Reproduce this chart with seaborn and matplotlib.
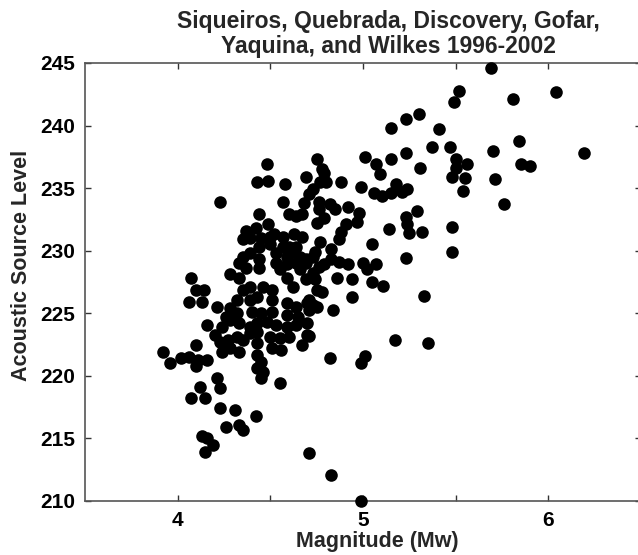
import matplotlib
matplotlib.use("Agg")
import matplotlib.pyplot as plt
import seaborn as sns
import pandas as pd

magnitude = [
    5.69, 6.04, 5.81, 5.84, 5.70, 6.19, 5.85, 5.90, 5.71, 5.76,
    5.52, 5.49, 5.30, 5.23, 5.15, 5.41, 5.37, 5.47, 5.23, 5.01,
    5.15, 5.50, 5.56, 5.50, 5.07, 5.31, 5.09, 5.48, 5.55, 5.54,
    4.88, 4.99, 5.06, 5.10, 5.15, 5.18, 5.21, 5.24, 4.75, 4.78,
    4.79, 4.77, 4.80, 5.29, 5.23, 5.24, 5.25, 5.32, 5.14, 5.48,
    5.48, 5.05, 5.23, 5.07, 5.05, 5.11, 4.94, 4.86, 4.94, 5.33,
    4.84, 4.78, 4.74, 4.73, 4.92, 4.98, 4.97, 4.91, 4.88, 4.82,
    4.85, 4.76, 4.75, 4.79, 4.87, 4.77, 4.74, 4.83, 4.83, 4.87,
    4.92, 4.76, 4.71, 5.17, 5.35, 4.82, 5.01, 4.99, 4.71, 4.83,
    4.99, 4.48, 4.43, 4.49, 4.58, 4.23, 4.69, 4.57, 4.73, 4.71,
    4.68, 4.76, 4.60, 4.64, 4.67, 4.44, 4.49, 4.37, 4.42, 4.39,
    4.35, 4.45, 4.50, 4.52, 4.57, 4.63, 4.67, 4.44, 4.50, 4.57,
    4.60, 4.64, 4.69, 4.73, 4.39, 4.35, 4.53, 4.59, 4.62, 4.66,
    4.44, 4.33, 4.37, 4.28, 4.53, 4.59, 4.64, 4.69, 4.79, 5.00,
    5.02, 4.07, 4.10, 4.14, 4.06, 4.13, 4.21, 4.28, 4.32, 4.35,
    4.39, 4.43, 4.46, 4.51, 4.55, 4.59, 4.62, 4.66, 4.69, 4.73,
    4.75, 4.71, 4.51, 4.59, 4.64, 4.70, 4.75, 4.44, 4.33, 4.39,
    4.26, 4.32, 4.40, 4.45, 4.51, 4.59, 4.65, 4.71, 4.16, 4.20,
    4.24, 4.28, 4.33, 4.39, 4.43, 4.48, 4.53, 4.59, 4.64, 4.70,
    4.23, 4.27, 4.32, 4.35, 4.39, 4.43, 4.50, 4.55, 4.60, 4.70,
    4.67, 4.24, 4.28, 4.33, 4.43, 4.51, 4.56, 4.10, 3.92, 3.96,
    4.02, 4.06, 4.11, 4.16, 4.10, 4.43, 4.45, 4.43, 4.46, 4.45,
    4.55, 4.21, 4.23, 4.12, 4.07, 4.15, 4.23, 4.31, 4.42, 4.26,
    4.33, 4.35, 4.13, 4.16, 4.19, 4.15,
]

source_level = [
    244.6, 242.7, 242.1, 238.8, 238.0, 237.8, 236.9, 236.8, 235.7, 233.7,
    242.8, 241.9, 240.9, 240.5, 239.8, 239.7, 238.3, 238.3, 237.8, 237.5,
    237.3, 237.3, 236.9, 236.6, 236.9, 236.6, 236.1, 235.9, 235.8, 234.8,
    235.5, 235.1, 234.6, 234.4, 234.6, 235.3, 234.7, 234.9, 237.3, 236.5,
    236.2, 235.5, 235.5, 233.2, 232.7, 232.1, 231.4, 231.5, 231.7, 231.9,
    229.9, 230.5, 229.4, 228.9, 227.5, 227.2, 227.7, 227.8, 226.3, 226.4,
    225.3, 226.7, 227.7, 225.7, 233.5, 233.0, 232.3, 232.1, 231.5, 233.7,
    233.3, 233.3, 232.2, 232.6, 230.9, 230.7, 229.9, 230.1, 229.3, 229.1,
    228.9, 228.7, 223.2, 222.9, 222.6, 221.4, 221.6, 221.0, 213.8, 212.1,
    210.0, 236.9, 235.5, 235.6, 235.3, 233.9, 235.9, 233.9, 234.9, 234.5,
    233.8, 233.9, 232.9, 232.8, 232.9, 232.9, 232.1, 231.6, 231.8, 231.0,
    230.9, 231.0, 231.1, 231.3, 231.1, 231.3, 231.1, 230.3, 230.5, 230.3,
    230.3, 230.3, 229.3, 229.5, 229.8, 229.5, 229.8, 229.5, 229.9, 229.5,
    229.3, 229.0, 228.6, 228.1, 229.0, 228.9, 229.0, 229.0, 228.9, 229.0,
    228.5, 227.8, 226.9, 226.9, 225.9, 225.9, 225.5, 225.4, 226.1, 226.9,
    226.1, 226.3, 227.1, 226.9, 228.5, 227.8, 227.1, 228.5, 227.7, 228.2,
    226.9, 226.1, 226.1, 225.8, 225.5, 225.8, 225.5, 228.6, 227.8, 227.1,
    224.7, 225.0, 225.1, 225.0, 225.1, 224.9, 224.7, 225.3, 224.1, 223.3,
    223.9, 224.5, 224.2, 223.9, 224.2, 224.3, 224.1, 223.9, 224.1, 224.2,
    222.7, 222.9, 223.1, 222.9, 223.4, 223.5, 223.1, 223.0, 223.1, 223.3,
    222.5, 221.9, 222.2, 221.9, 222.6, 222.2, 222.1, 222.5, 221.9, 221.0,
    221.4, 221.5, 221.3, 221.3, 220.8, 221.7, 221.1, 220.6, 220.3, 219.8,
    219.4, 219.8, 219.0, 219.1, 218.2, 218.2, 217.4, 217.3, 216.8, 215.9,
    216.1, 215.7, 215.2, 215.0, 214.5, 213.9,
]

x_ticks = [4, 4.5, 5, 5.5, 6]
x_tick_labels = ["4", "", "5", "", "6"]
y_ticks = [210, 215, 220, 225, 230, 235, 240, 245]

title_text = "Siqueiros, Quebrada, Discovery, Gofar,\nYaquina, and Wilkes 1996-2002"
x_label = "Magnitude (Mw)"
y_label = "Acoustic Source Level"

sns.set_style("ticks")
plt.rcParams["font.family"] = ["Liberation Sans", "DejaVu Sans"]
plt.rcParams["font.weight"] = "bold"

df = pd.DataFrame({"mag": magnitude, "asl": source_level})

fig = plt.figure(figsize=(6.38, 5.55), dpi=100)
ax = fig.add_axes([85 / 638, 1 - 501 / 555, 556 / 638, 438 / 555])

sns.scatterplot(data=df, x="mag", y="asl", ax=ax, color="black",
                s=82, linewidth=0, edgecolor="black", clip_on=False, zorder=3)

ax.set_xlim(3.5, 6.5)
ax.set_ylim(210, 245)
ax.set_xticks(x_ticks)
ax.set_xticklabels(x_tick_labels)
ax.set_yticks(y_ticks)
ax.set_yticklabels([str(v) for v in y_ticks])

ax.tick_params(axis="both", direction="in", length=4, width=1, color="#333333",
               top=True, right=True, labelsize=15, pad=7, labelcolor="black")
for lab in ax.get_xticklabels() + ax.get_yticklabels():
    lab.set_fontweight("bold")

for sp in ax.spines.values():
    sp.set_visible(True)
    sp.set_color("#555555")
    sp.set_linewidth(1.2)

ax.set_xlabel(x_label, fontsize=15.5, fontweight="bold")
ax.set_ylabel(y_label, fontsize=15.5, fontweight="bold")
ax.xaxis.set_label_coords((377 - 85) / 556, (501 - 531) / 438)
ax.yaxis.set_label_coords((32 - 85) / 556, (501 - 265) / 438)

fig.text(388 / 638, 1 - 10 / 555, title_text, ha="center", va="top",
         fontsize=16.5, fontweight="bold", linespacing=1.1)

fig.savefig("out.png", dpi=100)
